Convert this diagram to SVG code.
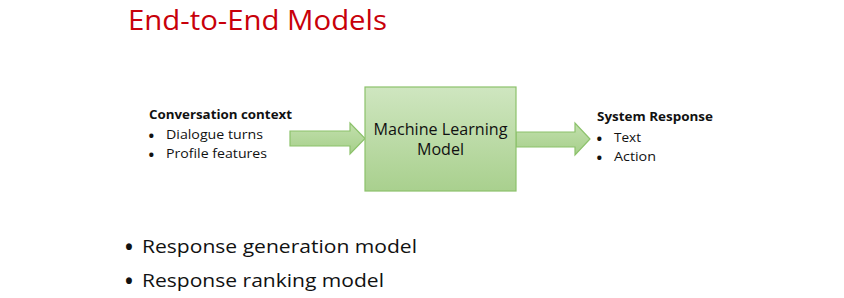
<svg xmlns="http://www.w3.org/2000/svg" width="844" height="298" viewBox="0 0 844 298">
<defs>
<linearGradient id="gBox" x1="0" y1="0" x2="0" y2="1">
<stop offset="0" stop-color="#cfe6c0"/>
<stop offset="1" stop-color="#a9d08e"/>
</linearGradient>
<linearGradient id="gArrow" x1="0" y1="0" x2="0" y2="1">
<stop offset="0" stop-color="#c2e0ad"/>
<stop offset="1" stop-color="#a6cf8a"/>
</linearGradient>
</defs>
<style>
text{font-family:"Open Sans","Liberation Sans",Arial,sans-serif;fill:#111}
.b{font-weight:bold;font-size:11.5px}
.s{font-size:12px}
.sb{font-size:15px;font-weight:bold}
.m{font-size:15.5px;text-anchor:middle}
.big{font-size:18.5px}
.bb{font-size:21px;font-weight:bold}
.title{font-size:26.5px;fill:#c8000a}
.arrow{fill:url(#gArrow);stroke:#8cc26b;stroke-width:1.2}
</style>
<rect width="844" height="298" fill="#ffffff"/>
<text class="title" x="128" y="30" textLength="259" lengthAdjust="spacingAndGlyphs">End-to-End Models</text>
<g id="input">
<text class="b" x="149" y="119" textLength="143" lengthAdjust="spacingAndGlyphs">Conversation context</text>
<text class="sb" x="148.5" y="140.5">•</text>
<text class="s" x="166" y="139" textLength="97" lengthAdjust="spacingAndGlyphs">Dialogue turns</text>
<text class="sb" x="148.5" y="159.5">•</text>
<text class="s" x="166" y="158" textLength="101" lengthAdjust="spacingAndGlyphs">Profile features</text>
</g>
<g id="connectors">
<path class="arrow" d="M290,131 H350 V123 L365,138.5 L350,154 V146 H290 Z"/>
<path class="arrow" d="M516,132 H575 V123 L590,139 L575,155 V147 H516 Z"/>
</g>
<g id="model">
<rect x="365" y="87" width="151" height="104" fill="url(#gBox)" stroke="#8cc26b" stroke-width="1.2"/>
<text class="m" x="440.5" y="135" textLength="134" lengthAdjust="spacingAndGlyphs">Machine Learning</text>
<text class="m" x="440.5" y="155" textLength="47" lengthAdjust="spacingAndGlyphs">Model</text>
</g>
<g id="output">
<text class="b" x="597" y="121" textLength="116" lengthAdjust="spacingAndGlyphs">System Response</text>
<text class="sb" x="596.5" y="143.5">•</text>
<text class="s" x="614" y="142" textLength="27" lengthAdjust="spacingAndGlyphs">Text</text>
<text class="sb" x="596.5" y="162.5">•</text>
<text class="s" x="614" y="161" textLength="42" lengthAdjust="spacingAndGlyphs">Action</text>
</g>
<g id="bullets">
<text class="bb" x="125" y="255">•</text>
<text class="big" x="142" y="253" textLength="275" lengthAdjust="spacingAndGlyphs">Response generation model</text>
<text class="bb" x="125" y="289">•</text>
<text class="big" x="142" y="287" textLength="242" lengthAdjust="spacingAndGlyphs">Response ranking model</text>
</g>
</svg>
